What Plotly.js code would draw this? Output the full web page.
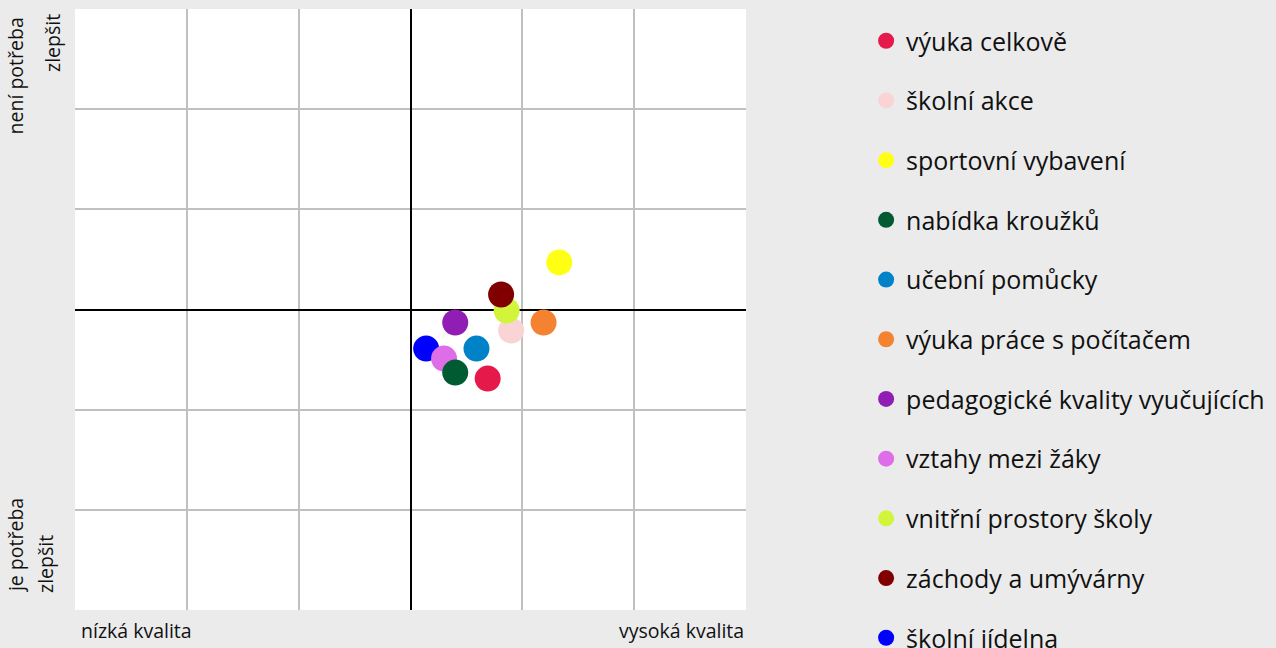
<!DOCTYPE html>
<html>
<head>
<meta charset="utf-8">
<script src="https://cdn.plot.ly/plotly-3.0.1.min.js"></script>
<style>html,body{margin:0;padding:0;background:#ebebeb;}#chart{width:1276px;height:648px;}</style>
</head>
<body>
<div id="chart"></div>
<script>
// Legend order categories
var categories = [
  "výuka celkově",
  "školní akce",
  "sportovní vybavení",
  "nabídka kroužků",
  "učební pomůcky",
  "výuka práce s počítačem",
  "pedagogické kvality vyučujících",
  "vztahy mezi žáky",
  "vnitřní prostory školy",
  "záchody a umývárny",
  "školní jídelna"
];
// quality (x) and need to improve (y)
var quality = [0.69, 0.90, 1.33, 0.40, 0.59, 1.19, 0.40, 0.30, 0.86, 0.81, 0.14];
var noNeed  = [-0.69, -0.21, 0.47, -0.63, -0.39, -0.13, -0.13, -0.49, -0.01, 0.15, -0.39];
var colors = ["#e6194b", "#fad4d4", "#ffff14", "#005a32", "#0082c8", "#f58231",
              "#911eb4", "#de6ee8", "#d2f53c", "#800000", "#0000ff"];
// drawing order (bottom to top)
var drawOrder = [10, 7, 3, 0, 1, 2, 4, 5, 6, 8, 9];

var xLabels = ["nízká kvalita", "vysoká kvalita"];
var yHighLines = ["není potřeba", "zlepšit"];
var yLowLines = ["je potřeba", "zlepšit"];
var gridVals = [-2, -1, 0, 1, 2];

var traces = drawOrder.map(function (i) {
  return {
    type: "scatter", mode: "markers",
    name: categories[i],
    x: [quality[i]], y: [noNeed[i]],
    legendrank: i + 1,
    legendgroup: "g" + i,
    marker: {size: 26, color: colors[i], line: {width: 0}},
    hoverinfo: "name"
  };
});

var FONT = "Open Sans, Noto Sans, sans-serif";
var LBL = {size: 19.5, family: FONT, color: "#111111"};
function vlab(text, x, y, yanchor) {
  return {text: text, xref: "paper", yref: "paper", x: x, y: y,
          xanchor: "center", yanchor: yanchor, textangle: -90, showarrow: false, font: LBL};
}
var layout = {
  width: 1276, height: 648,
  paper_bgcolor: "#ebebeb", plot_bgcolor: "#ffffff",
  margin: {l: 75, r: 530, t: 9, b: 38, autoexpand: false},
  font: {family: FONT, color: "#111111"},
  showlegend: true,
  legend: {
    x: 1.179, y: 0.985, xanchor: "left", yanchor: "top",
    xref: "paper", yref: "paper",
    font: {size: 25, family: FONT, color: "#111111"},
    bgcolor: "rgba(0,0,0,0)",
    traceorder: "grouped", tracegroupgap: 24.2,
    maxheight: 3000,
    itemclick: false, itemdoubleclick: false
  },
  xaxis: {
    range: [-3, 3], tickvals: gridVals, showticklabels: false, ticks: "",
    showgrid: true, gridcolor: "#c0c0c0", gridwidth: 2,
    zeroline: true, zerolinecolor: "#000000", zerolinewidth: 2,
    showline: false, fixedrange: true
  },
  yaxis: {
    range: [-3, 3], tickvals: gridVals, showticklabels: false, ticks: "",
    showgrid: true, gridcolor: "#c0c0c0", gridwidth: 2,
    zeroline: true, zerolinecolor: "#000000", zerolinewidth: 2,
    showline: false, fixedrange: true
  },
  annotations: [
    {text: xLabels[0], xref: "paper", yref: "paper", x: 0.006, y: -0.034,
     xanchor: "left", yanchor: "middle", showarrow: false, font: LBL},
    {text: xLabels[1], xref: "paper", yref: "paper", x: 1.0, y: -0.034,
     xanchor: "right", yanchor: "middle", showarrow: false, font: LBL},
    vlab(yHighLines[0], -0.0885, 0.9895, "top"),
    vlab(yHighLines[1], -0.0343, 0.995, "top"),
    vlab(yLowLines[0], -0.0885, 0.025, "bottom"),
    vlab(yLowLines[1], -0.0432, 0.025, "bottom")
  ]
};

Plotly.newPlot("chart", traces, layout, {displayModeBar: false, staticPlot: false});
</script>
</body>
</html>
